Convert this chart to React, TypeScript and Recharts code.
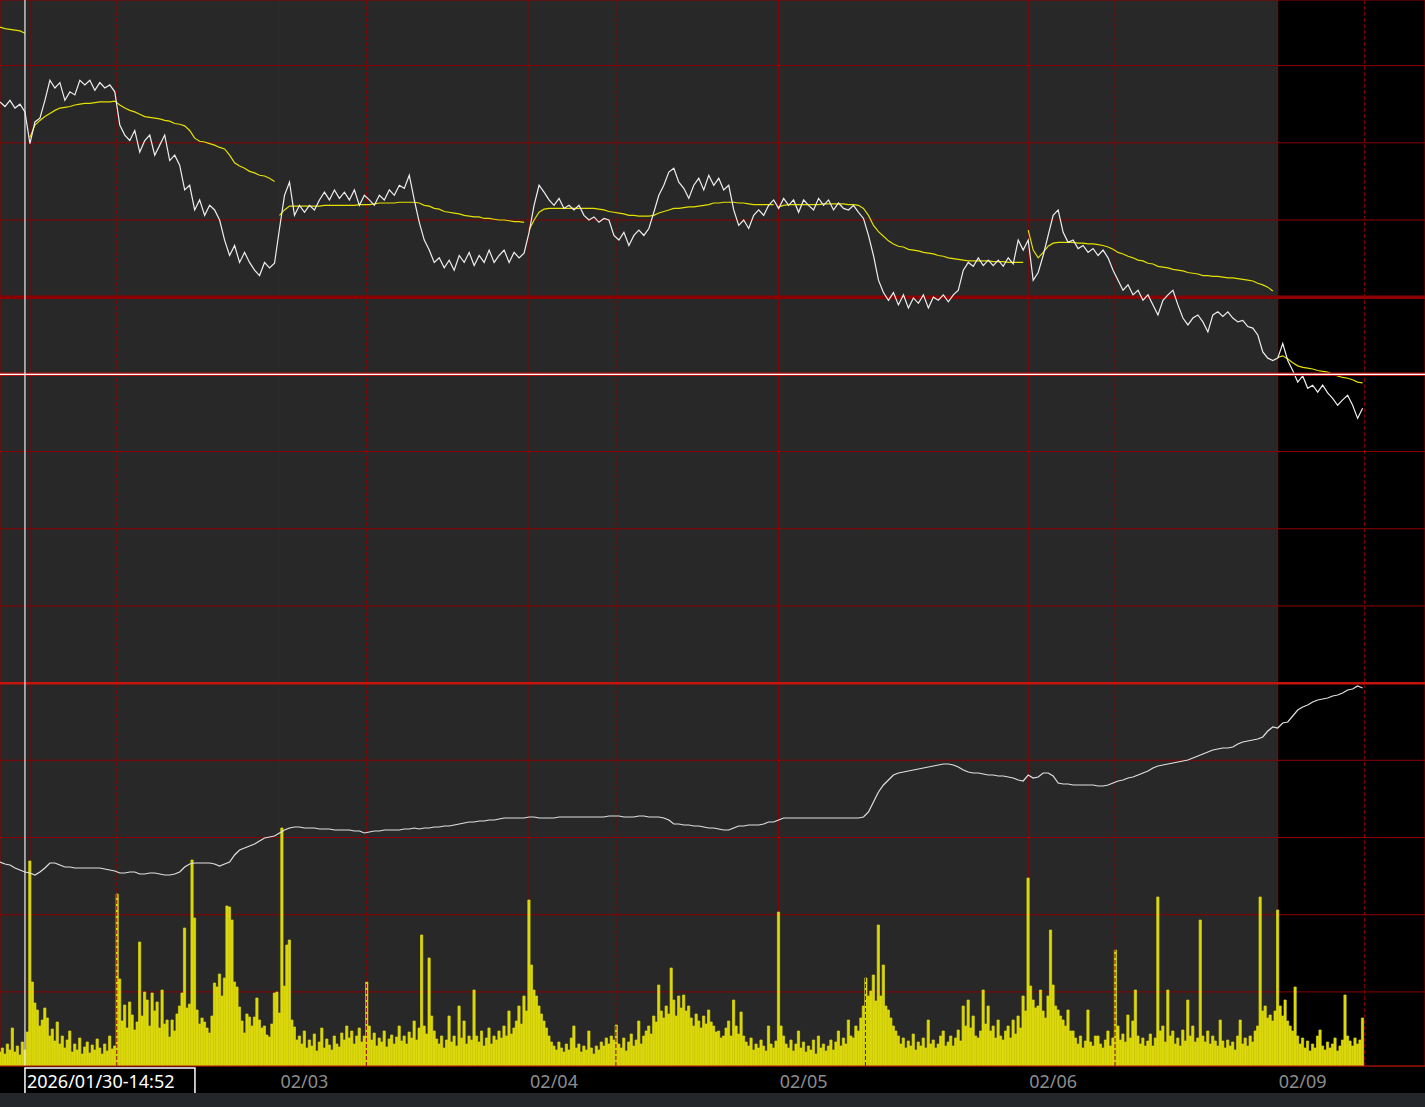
import React from "react";
import {
  ComposedChart,
  Bar,
  Line,
  XAxis,
  YAxis,
  CartesianGrid,
  ReferenceLine,
} from "recharts";

// time axis: one slot per price sample, a session is 50 slots
const dayStarts = [6, 56, 106, 156, 206, 256];
const dayLabels = ["02/02", "02/03", "02/04", "02/05", "02/06", "02/09"];
const sessionBreaks = [23.4, 73.4, 123.4, 173.4, 223.4, 273.4];
const priceTicks = [2910, 2920, 2930, 2940, 2950, 2960, 2970, 2980, 2990, 3000, 3010, 3020, 3030];
const baseLevel = 3000;
const panelLevel = 2950;
const crosshairT = 5;
const crosshairPrice = 2990;
const crosshairText = "2026/01/30-14:52";

const price = [
  3025.3, 3024.7, 3025.5, 3024.5, 3025.0, 3024.0, 3019.9, 3022.7, 3023.2, 3025.5,
  3028.1, 3027.1, 3027.8, 3025.5, 3026.6, 3026.2, 3028.1, 3027.5, 3028.1, 3026.8,
  3027.8, 3027.1, 3027.5, 3026.6, 3022.3, 3021.0, 3020.3, 3021.6, 3018.8, 3020.3,
  3021.0, 3018.4, 3019.7, 3021.0, 3017.7, 3018.4, 3017.1, 3013.9, 3014.5, 3011.3,
  3012.6, 3010.6, 3011.9, 3011.3, 3010.0, 3007.4, 3005.4, 3006.7, 3004.5, 3005.8,
  3004.5, 3003.5, 3002.8, 3004.5, 3003.8, 3004.4, 3008.9, 3013.2, 3014.9, 3010.6,
  3011.9, 3011.0, 3011.9, 3011.3, 3012.6, 3013.6, 3012.6, 3013.9, 3012.8, 3013.6,
  3012.6, 3013.9, 3011.9, 3013.2, 3012.6, 3011.9, 3013.2, 3012.6, 3013.9, 3013.2,
  3014.5, 3014.1, 3015.8, 3012.6, 3009.7, 3007.4, 3006.1, 3004.5, 3005.1, 3003.8,
  3004.8, 3003.5, 3005.4, 3004.5, 3005.8, 3004.1, 3005.4, 3004.5, 3006.1, 3004.5,
  3005.4, 3006.1, 3004.5, 3005.8, 3005.1, 3005.7, 3008.4, 3011.9, 3014.5, 3013.6,
  3012.6, 3011.9, 3012.8, 3011.5, 3011.9, 3011.3, 3011.9, 3010.6, 3010.0, 3010.4,
  3009.7, 3010.2, 3010.0, 3008.0, 3007.4, 3008.4, 3006.7, 3008.0, 3008.7, 3008.0,
  3008.9, 3011.0, 3013.2, 3014.5, 3016.2, 3016.7, 3014.9, 3014.1, 3012.8, 3014.5,
  3015.4, 3013.9, 3015.8, 3014.5, 3015.4, 3013.9, 3014.5, 3011.3, 3009.3, 3010.0,
  3008.9, 3010.6, 3011.3, 3010.6, 3011.9, 3012.6, 3011.5, 3012.8, 3011.9, 3012.6,
  3011.0, 3012.6, 3011.9, 3011.3, 3012.8, 3011.9, 3012.6, 3011.3, 3012.2, 3011.5,
  3011.3, 3011.9, 3011.0, 3010.2, 3008.0, 3005.4, 3002.2, 3000.6, 2999.6, 3000.6,
  2999.0, 3000.3, 2998.6, 2999.9, 2999.2, 3000.3, 2998.6, 3000.0, 2999.6, 3000.3,
  2999.4, 3000.3, 3000.9, 3003.5, 3004.5, 3004.0, 3005.1, 3004.1, 3004.8, 3004.1,
  3004.8, 3004.0, 3005.1, 3004.3, 3007.4, 3006.1, 3007.4, 3002.2, 3003.2, 3005.4,
  3008.0, 3010.6, 3011.3, 3008.4, 3007.1, 3007.4, 3006.3, 3006.7, 3005.8, 3006.3,
  3005.4, 3006.1, 3005.1, 3003.5, 3002.2, 3000.9, 3001.6, 3000.3, 3000.9, 2999.6,
  3000.3, 2999.0, 2997.7, 2999.6, 3000.3, 3000.9, 2999.0, 2997.3, 2996.4, 2997.3,
  2997.7, 2996.8, 2995.5, 2997.7, 2998.1, 2997.5, 2998.1, 2997.3, 2996.8, 2997.0,
  2996.2, 2996.0, 2995.1, 2992.9, 2992.1, 2991.8, 2992.1, 2994.0, 2991.8, 2990.5,
  2989.0, 2989.8, 2988.2, 2988.6, 2987.7, 2988.6, 2987.6, 2986.9, 2986.0, 2986.7,
  2987.3, 2986.0, 2984.3, 2985.6,
];

// volume weighted average, restarts every session
const vwap = [
  3035.0, 3034.8, 3034.7, 3034.6, 3034.5, 3034.2,
  3020.7, 3022.3, 3022.9, 3023.4, 3023.8, 3024.2, 3024.5, 3024.6, 3024.7, 3024.9,
  3025.0, 3025.1, 3025.1, 3025.2, 3025.3, 3025.3, 3025.3, 3025.4, 3024.9, 3024.5,
  3024.2, 3024.0, 3023.7, 3023.4, 3023.3, 3023.2, 3023.1, 3022.9, 3022.8, 3022.5,
  3022.4, 3022.2, 3021.6, 3020.6, 3020.2, 3020.1, 3019.9, 3019.7, 3019.4, 3019.2,
  3018.4, 3017.4, 3017.0, 3016.7, 3016.3, 3016.1, 3015.8, 3015.7, 3015.4, 3015.0,
  3010.6, 3011.3, 3011.8, 3011.8, 3011.8, 3011.8, 3011.8, 3011.8, 3011.8, 3011.9,
  3011.9, 3011.9, 3011.9, 3011.9, 3011.9, 3011.9, 3012.0, 3012.0, 3012.0, 3012.1,
  3012.2, 3012.2, 3012.2, 3012.2, 3012.3, 3012.3, 3012.3, 3012.3, 3012.2, 3011.9,
  3011.8, 3011.5, 3011.4, 3011.1, 3011.0, 3010.9, 3010.8, 3010.6, 3010.5, 3010.4,
  3010.4, 3010.2, 3010.2, 3010.1, 3010.0, 3010.0, 3009.9, 3009.8, 3009.8, 3009.7,
  3008.7, 3010.0, 3011.0, 3011.4, 3011.5, 3011.5, 3011.5, 3011.5, 3011.5, 3011.5,
  3011.5, 3011.5, 3011.5, 3011.5, 3011.4, 3011.3, 3011.1, 3011.0, 3010.9, 3010.8,
  3010.6, 3010.6, 3010.5, 3010.5, 3010.5, 3010.6, 3010.9, 3011.1, 3011.3, 3011.5,
  3011.5, 3011.6, 3011.7, 3011.7, 3011.8, 3011.9, 3012.0, 3012.2, 3012.2, 3012.3,
  3012.3, 3012.3, 3012.2, 3012.2, 3012.1, 3012.0, 3012.0, 3012.0, 3012.0, 3012.0,
  3011.7, 3011.9, 3012.0, 3012.0, 3012.0, 3012.0, 3012.0, 3012.0, 3012.0, 3012.1,
  3012.1, 3012.1, 3012.1, 3012.1, 3012.0, 3012.0, 3011.9, 3011.5, 3010.6, 3009.3,
  3008.5, 3007.9, 3007.3, 3006.9, 3006.6, 3006.5, 3006.2, 3006.1, 3006.0, 3005.8,
  3005.7, 3005.6, 3005.4, 3005.3, 3005.1, 3005.0, 3004.9, 3004.8, 3004.7, 3004.7,
  3004.7, 3004.7, 3004.7, 3004.6, 3004.6, 3004.6, 3004.5, 3004.5, 3004.5, 3004.5,
  3008.7, 3006.1, 3005.1, 3005.8, 3006.6, 3007.0, 3007.1, 3007.1, 3007.1, 3007.1,
  3007.0, 3007.0, 3006.9, 3006.9, 3006.8, 3006.7, 3006.5, 3006.2, 3005.8, 3005.6,
  3005.3, 3005.1, 3004.8, 3004.7, 3004.4, 3004.3, 3004.0, 3003.9, 3003.8, 3003.6,
  3003.5, 3003.4, 3003.2, 3003.1, 3003.0, 3002.8, 3002.8, 3002.7, 3002.7, 3002.6,
  3002.5, 3002.5, 3002.4, 3002.3, 3002.2, 3002.1, 3001.8, 3001.6, 3001.3, 3000.8,
  2992.2, 2992.4, 2992.0, 2991.5, 2991.1, 2990.9, 2990.8, 2990.7, 2990.5, 2990.4,
  2990.3, 2990.0, 2989.8, 2989.6, 2989.5, 2989.3, 2989.0, 2988.9,
];

// cumulative indicator for the lower pane
const cum = [
  204, 202, 201, 198, 196, 194, 193, 191, 194, 198,
  203, 203, 201, 199, 199, 198, 198, 198, 198, 198,
  198, 197, 196, 195, 193, 193, 194, 194, 192, 192,
  193, 193, 192, 191, 191, 192, 194, 199, 202, 203,
  203, 203, 203, 202, 200, 202, 204, 211, 216, 218,
  220, 222, 225, 228, 229, 230, 233, 236, 238, 239,
  239, 238, 238, 238, 237, 237, 237, 236, 236, 236,
  236, 235, 235, 233, 234, 235, 235, 236, 236, 236,
  236, 237, 237, 238, 237, 238, 238, 239, 239, 240,
  240, 241, 242, 243, 244, 244, 245, 245, 246, 246,
  247, 248, 248, 248, 248, 248, 249, 249, 248, 248,
  248, 248, 249, 249, 249, 249, 249, 249, 249, 249,
  249, 249, 250, 250, 250, 249, 249, 249, 250, 250,
  249, 249, 249, 248, 246, 242, 242, 241, 241, 240,
  240, 239, 238, 238, 237, 236, 236, 238, 240, 240,
  241, 241, 241, 242, 244, 244, 246, 248, 248, 248,
  248, 248, 248, 248, 248, 248, 248, 248, 248, 248,
  248, 248, 248, 249, 254, 264, 274, 281, 286, 291,
  293, 294, 295, 296, 297, 298, 299, 300, 301, 302,
  302, 301, 299, 296, 294, 293, 293, 292, 291, 291,
  290, 290, 289, 288, 286, 285, 291, 288, 289, 293,
  293, 290, 283, 282, 282, 281, 281, 281, 281, 281,
  280, 280, 281, 283, 285, 286, 288, 289, 291, 293,
  295, 298, 300, 301, 302, 303, 304, 305, 306, 308,
  310, 312, 314, 316, 317, 318, 318, 319, 322, 324,
  325, 326, 327, 329, 335, 339, 338, 343, 344, 350,
  356, 359, 361, 364, 366, 367, 368, 370, 371, 373,
  376, 377, 380, 378,
];

// volume, two bars per price sample
const volume = [
  14, 18, 12, 22, 16, 38, 14, 20, 11, 24, 16, 34, 205, 84, 63, 56, 40, 46, 58, 48,
  30, 37, 25, 44, 22, 30, 18, 26, 35, 14, 22, 16, 28, 12, 19, 24, 13, 21, 16, 27,
  18, 12, 22, 15, 30, 17, 20, 172, 87, 45, 61, 38, 64, 51, 36, 44, 124, 50, 74, 66,
  40, 73, 55, 64, 38, 76, 42, 46, 29, 46, 35, 52, 60, 73, 138, 58, 62, 206, 148, 56,
  42, 48, 44, 38, 33, 50, 83, 79, 92, 70, 88, 160, 159, 146, 84, 79, 59, 45, 33, 52,
  49, 40, 49, 68, 46, 38, 40, 31, 29, 42, 73, 74, 53, 238, 80, 121, 126, 46, 39, 26,
  30, 22, 35, 18, 26, 20, 32, 15, 24, 38, 18, 27, 21, 16, 30, 22, 19, 33, 26, 40,
  28, 35, 22, 30, 38, 24, 30, 84, 40, 26, 33, 20, 28, 24, 35, 19, 27, 31, 22, 29,
  40, 25, 30, 22, 34, 28, 45, 26, 38, 131, 40, 32, 108, 50, 35, 27, 22, 30, 18, 26,
  50, 24, 30, 20, 60, 28, 45, 22, 30, 26, 76, 30, 24, 35, 20, 28, 38, 22, 30, 26,
  35, 28, 40, 30, 55, 32, 38, 45, 60, 42, 70, 55, 166, 101, 76, 70, 60, 52, 45, 38,
  30, 24, 20, 16, 24, 18, 14, 22, 16, 28, 40, 18, 22, 14, 20, 16, 35, 18, 12, 20,
  16, 24, 20, 28, 22, 30, 26, 41, 22, 18, 28, 15, 24, 32, 20, 26, 45, 22, 30, 35,
  40, 32, 50, 44, 81, 55, 48, 60, 52, 98, 66, 50, 70, 58, 71, 55, 60, 48, 40, 52,
  45, 38, 50, 42, 56, 44, 40, 34, 35, 28, 30, 38, 45, 30, 66, 40, 32, 54, 30, 24,
  20, 28, 16, 22, 18, 26, 20, 15, 40, 22, 18, 25, 154, 40, 30, 22, 18, 26, 15, 22,
  35, 18, 24, 14, 20, 16, 26, 12, 30, 18, 22, 15, 20, 26, 16, 24, 35, 20, 28, 22,
  46, 30, 28, 40, 35, 48, 60, 88, 70, 75, 91, 65, 141, 70, 101, 60, 56, 48, 40, 35,
  30, 22, 28, 18, 25, 20, 32, 16, 24, 20, 28, 18, 46, 22, 26, 18, 22, 30, 35, 20,
  24, 30, 20, 28, 36, 25, 60, 40, 66, 38, 50, 30, 28, 35, 76, 42, 60, 35, 40, 28,
  46, 30, 26, 35, 40, 28, 46, 32, 50, 38, 70, 55, 188, 80, 66, 58, 60, 76, 55, 48,
  70, 136, 81, 60, 56, 50, 46, 40, 56, 35, 35, 28, 22, 30, 18, 25, 56, 24, 20, 30,
  30, 22, 18, 26, 35, 20, 28, 116, 40, 26, 32, 24, 51, 28, 45, 76, 30, 22, 28, 20,
  25, 32, 20, 28, 169, 35, 40, 24, 76, 30, 35, 22, 28, 20, 36, 25, 66, 30, 40, 24,
  28, 146, 30, 24, 35, 22, 30, 25, 20, 46, 25, 18, 26, 20, 24, 16, 30, 46, 22, 28,
  20, 30, 24, 35, 40, 169, 55, 60, 48, 51, 45, 55, 156, 60, 50, 66, 45, 40, 35, 79,
  30, 22, 28, 18, 25, 15, 22, 18, 30, 36, 20, 16, 24, 18, 22, 28, 15, 20, 26, 71,
  30, 25, 20, 28, 22, 26, 48,
];

const GRID = "#8b0000";
const PANE = "#282828";
const LIVE = "#000000";
const VOL = "#dcd90b";
// the time tag under the crosshair covers this many slots of the axis
const TAG_SLOTS = 34;

const sessionOf = (i: number) => dayStarts.filter((d) => d <= i).length;
const vwapKeys = [0, 1, 2, 3, 4, 5, 6].map((k) => "vwap" + k);

const rows = volume.map((v, j) => {
  const row: Record<string, number> = { t: j / 2, vol: v };
  if (j % 2 === 0) {
    const i = j / 2;
    row.price = price[i];
    row.cum = cum[i];
    row["vwap" + sessionOf(i)] = vwap[i];
  }
  return row;
});

// last session is drawn on black
const stripeFills = [PANE, ...dayStarts.map((_, k) => (k === dayStarts.length - 1 ? LIVE : PANE))];

function DayTick(props: any) {
  const { x, y, payload } = props;
  // hidden behind the crosshair time tag
  if (payload.value >= crosshairT && payload.value < crosshairT + TAG_SLOTS) return <g />;
  const label = dayLabels[dayStarts.indexOf(payload.value)];
  return (
    <text x={x + 1} y={y + 20} fill="#8c8c8c" fontSize={18} fontFamily="'Noto Sans', sans-serif">
      {label}
    </text>
  );
}

function CrosshairTag(props: any) {
  const { viewBox, value } = props;
  if (!viewBox) return null;
  const bottom = viewBox.y + viewBox.height;
  return (
    <g>
      <rect x={viewBox.x} y={bottom + 2} width={170} height={32} fill="#000" stroke="#fff" strokeWidth={1.5} />
      <text x={viewBox.x + 2} y={bottom + 22} fill="#fff" fontSize={18} fontFamily="'Noto Sans', sans-serif">
        {value}
      </text>
    </g>
  );
}

export default function App() {
  return (
    <div
      style={{
        position: "absolute",
        left: 0,
        top: 0,
        width: 1425,
        height: 1107,
        background: "#23262b",
        fontFamily: "'Noto Sans', sans-serif",
      }}
    >
      <div style={{ width: 1425, height: 1093, background: "#000" }}>
        <ComposedChart width={1425} height={1093} data={rows} margin={{ top: 0, right: 0, bottom: 0, left: 0 }}>
          <XAxis
            dataKey="t"
            type="number"
            domain={[0, 285.5]}
            allowDataOverflow
            ticks={dayStarts}
            interval={0}
            height={27}
            tickSize={0}
            tickLine={false}
            axisLine={{ stroke: "#a8180a" }}
            tick={(p: any) => <DayTick {...p} />}
          />
          <YAxis yAxisId="price" hide domain={[2900.4, 3038.5]} ticks={priceTicks} allowDataOverflow />
          <YAxis yAxisId="cum" hide domain={[0, 1066]} allowDataOverflow />
          <YAxis yAxisId="vol" hide domain={[0, 1066]} allowDataOverflow />

          <CartesianGrid yAxisId="price" horizontal={false} vertical verticalFill={stripeFills} stroke="none" />
          <CartesianGrid yAxisId="price" stroke={GRID} strokeWidth={1} />

          {sessionBreaks.map((s) => (
            <ReferenceLine key={"s" + s} yAxisId="price" x={s} stroke={GRID} strokeDasharray="4 2" />
          ))}
          <ReferenceLine yAxisId="price" y={baseLevel} stroke={GRID} strokeWidth={3.5} />
          <ReferenceLine yAxisId="price" y={panelLevel} stroke="#c4140c" strokeWidth={2.5} />

          <Bar
            yAxisId="vol"
            dataKey="vol"
            fill={VOL}
            stroke={VOL}
            strokeWidth={0.7}
            barSize={3}
            isAnimationActive={false}
          />
          <Line
            yAxisId="cum"
            dataKey="cum"
            type="linear"
            stroke="#e0e0e0"
            strokeWidth={1.2}
            dot={false}
            activeDot={false}
            connectNulls
            isAnimationActive={false}
          />
          {vwapKeys.map((k) => (
            <Line
              key={k}
              yAxisId="price"
              dataKey={k}
              type="linear"
              stroke="#e4e000"
              strokeWidth={1.2}
              dot={false}
              activeDot={false}
              connectNulls
              isAnimationActive={false}
            />
          ))}
          <Line
            yAxisId="price"
            dataKey="price"
            type="linear"
            stroke="#eeeeee"
            strokeWidth={1.2}
            dot={false}
            activeDot={false}
            connectNulls
            isAnimationActive={false}
          />

          <ReferenceLine yAxisId="price" y={crosshairPrice} stroke="#b41010" strokeWidth={3.5} />
          <ReferenceLine yAxisId="price" y={crosshairPrice} stroke="#ffffff" strokeWidth={1.2} />
          <ReferenceLine
            yAxisId="price"
            x={crosshairT}
            stroke="#eeeeee"
            strokeWidth={1.2}
            label={<CrosshairTag value={crosshairText} />}
          />
        </ComposedChart>
      </div>
    </div>
  );
}
